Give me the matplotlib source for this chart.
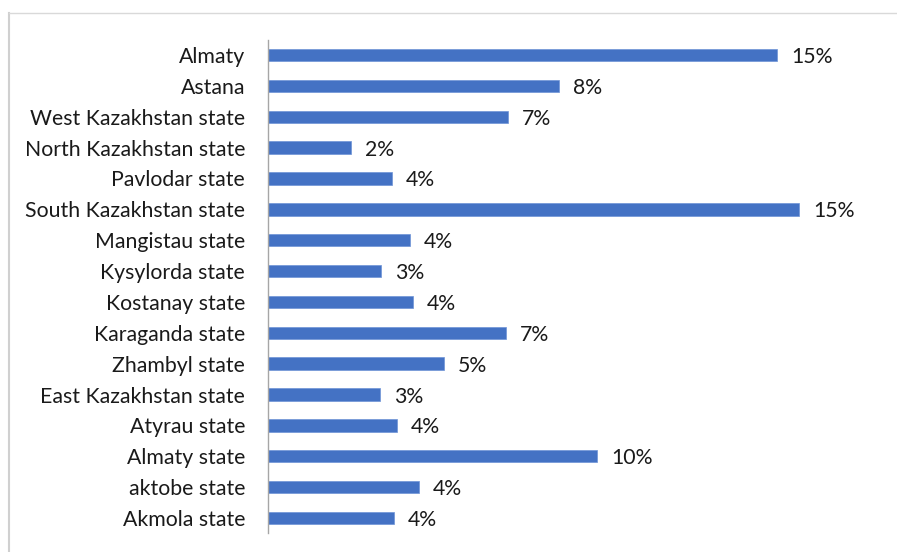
import matplotlib
matplotlib.use("Agg")
import matplotlib.pyplot as plt
from matplotlib.lines import Line2D

categories = ["Almaty", "Astana", "West Kazakhstan state", "North Kazakhstan state",
              "Pavlodar state", "South Kazakhstan state", "Mangistau state",
              "Kysylorda state", "Kostanay state", "Karaganda state", "Zhambyl state",
              "East Kazakhstan state", "Atyrau state", "Almaty state", "aktobe state",
              "Akmola state"]
values = [14.80, 8.46, 6.98, 2.41, 3.60, 15.44, 4.13, 3.28, 4.22, 6.92, 5.12,
          3.26, 3.75, 9.56, 4.39, 3.66]
labels = ["15%", "8%", "7%", "2%", "4%", "15%", "4%", "3%", "4%", "7%", "5%",
          "3%", "4%", "10%", "4%", "4%"]

W, H = 897, 552
plt.rcParams['font.family'] = ['Lato', 'DejaVu Sans']
fig = plt.figure(figsize=(W / 100, H / 100), dpi=100)

ax_left, ax_right, ax_top, ax_bottom = 268, 880, 39.6, 533.4
ax = fig.add_axes([ax_left / W, 1 - ax_bottom / H, (ax_right - ax_left) / W,
                   (ax_bottom - ax_top) / H])
px_per_unit = 34.4
xmax = (ax_right - ax_left) / px_per_unit

y = list(range(len(categories)))
ax.barh(y, values, height=0.4, color="#4472C4", edgecolor="#6E93D6", linewidth=0.5)
for yi, v, lab in zip(y, values, labels):
    ax.annotate(lab, (v, yi), xytext=(14, -2), textcoords="offset pixels",
                va="center", ha="left", fontsize=15.3, color="#1a1a1a")

ax.set_yticks(y)
ax.set_yticklabels(categories, fontsize=15.3, color="#1a1a1a")
ax.set_ylim(len(categories) - 0.5, -0.5)
ax.set_xlim(0, xmax)
ax.set_xticks([])
ax.tick_params(axis="y", length=0, pad=16.5)
for s in ["top", "right", "bottom"]:
    ax.spines[s].set_visible(False)
ax.spines["left"].set_color("#A6A6A6")
ax.spines["left"].set_linewidth(1.0)

fig.add_artist(Line2D([8.5 / W, 8.5 / W], [0, 1 - 13 / H], transform=fig.transFigure,
                      color="#D0D0D0", linewidth=1.5))
fig.add_artist(Line2D([8.5 / W, 1], [1 - 13 / H, 1 - 13 / H], transform=fig.transFigure,
                      color="#D9D9D9", linewidth=1.0))

fig.savefig("out.png", dpi=100)
